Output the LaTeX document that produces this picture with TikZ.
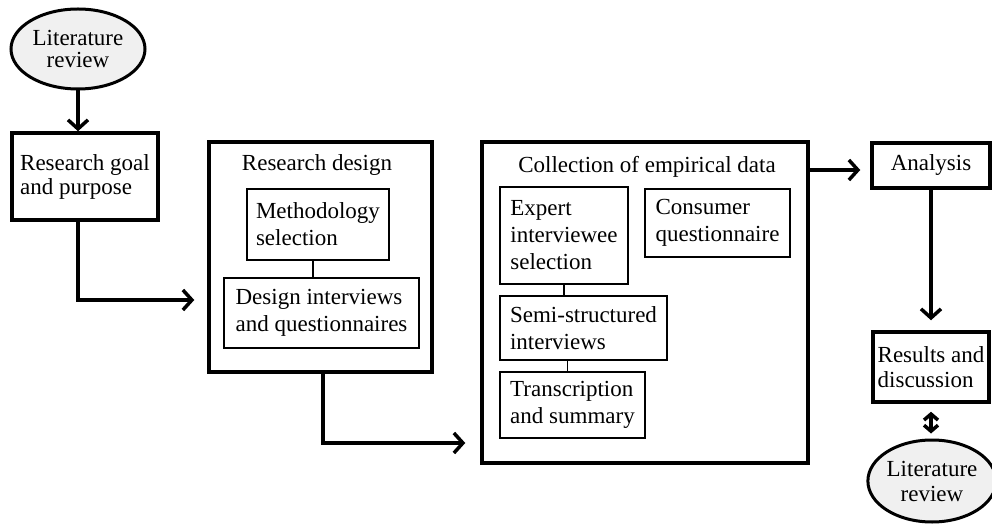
\documentclass[tikz,border=0pt]{standalone}
\usepackage{fontspec}
\setmainfont{Liberation Serif}
\usetikzlibrary{arrows.meta,shapes.geometric}
\begin{document}
\begin{tikzpicture}[x=1pt,y=-1pt,
		font=\fontsize{23}{27}\selectfont,
		bigbox/.style={draw, line width=3.5pt, inner sep=0pt},
		stagebox/.style={draw, line width=3.5pt, align=left, inner sep=0pt},
		smallbox/.style={draw, line width=1.8pt, align=left, inner sep=0pt},
		litnode/.style={ellipse, draw, line width=3pt, fill=gray!12, align=center, inner sep=0pt},
		flow/.style={line width=3.5pt, -{Straight Barb[length=9pt,width=20pt]}},
		dflow/.style={line width=3.5pt, {Straight Barb[length=6pt,width=14pt]}-{Straight Barb[length=6pt,width=14pt]}},
		link/.style={line width=1.8pt}]
			\useasboundingbox (0,0) rectangle (992,526);

			\draw node[litnode, minimum width=134, minimum height=80, font=\fontsize{23}{22}\selectfont] (lit1) at (78,49) {Literature\\review};
			\draw node[stagebox, minimum width=146, minimum height=87, font=\fontsize{23}{24}\selectfont] (goal) at (85,176.5) {Research goal\\and purpose};

			\draw node[bigbox, minimum width=223, minimum height=230] (design) at (320.5,257) {};
			\draw node (designtitle) at (317,165) {Research design};
			\draw node[smallbox, minimum width=142, minimum height=71] (method) at (318,224.5) {Methodology\\selection};
			\draw node[smallbox, minimum width=195, minimum height=70] (designq) at (321.5,313) {Design interviews\\and questionnaires};

			\draw node[bigbox, minimum width=326, minimum height=321] (collect) at (645,302.5) {};
			\draw node (collecttitle) at (647,167) {Collection of empirical data};
			\draw node[smallbox, minimum width=128, minimum height=97] (expert) at (564,235.5) {Expert\\interviewee\\selection};
			\draw node[smallbox, minimum width=145, minimum height=68] (consumer) at (717.5,223) {Consumer\\questionnaire};
			\draw node[smallbox, minimum width=167, minimum height=64] (semi) at (583.5,328) {Semi-structured\\interviews};
			\draw node[smallbox, minimum width=145, minimum height=66] (transc) at (572.5,405) {Transcription\\and summary};

			\draw node[stagebox, minimum width=118, minimum height=45, align=center] (analysis) at (931,165.5) {Analysis};
			\draw node[stagebox, minimum width=116, minimum height=70, font=\fontsize{23}{25}\selectfont] (results) at (931,367) {Results and\\discussion};
			\draw node[litnode, minimum width=115, minimum height=82, font=\fontsize{23}{25}\selectfont] (lit2) at (932,481) {Literature\\review};

			\draw[flow] (lit1.south) -- (lit1.south |- goal.north);
			\draw[flow] ([xshift=-7pt]goal.south) |- ([xshift=-13pt,yshift=-43pt]design.west);
			\draw[flow] ([xshift=2.5pt]design.south) |- ([xshift=-15pt,yshift=-140.5pt]collect.west);
			\draw[flow] ([yshift=-4.5pt]collect.east |- analysis.west) -- ([yshift=-4.5pt,xshift=-10pt]analysis.west);
			\draw[flow] (analysis.south) -- ([yshift=10pt]analysis.south |- results.north);
			\draw[dflow] ([yshift=-8pt]results.south) -- ([yshift=5pt]results.south |- lit2.north);

			\draw[link] ([xshift=-5pt]method.south) -- ([xshift=-5pt]method.south |- designq.north);
			\draw[link] (expert.south) -- (expert.south |- semi.north);
			\draw[link] ([xshift=-5pt]transc.north |- semi.south) -- ([xshift=-5pt]transc.north);
		\end{tikzpicture}
\end{document}
